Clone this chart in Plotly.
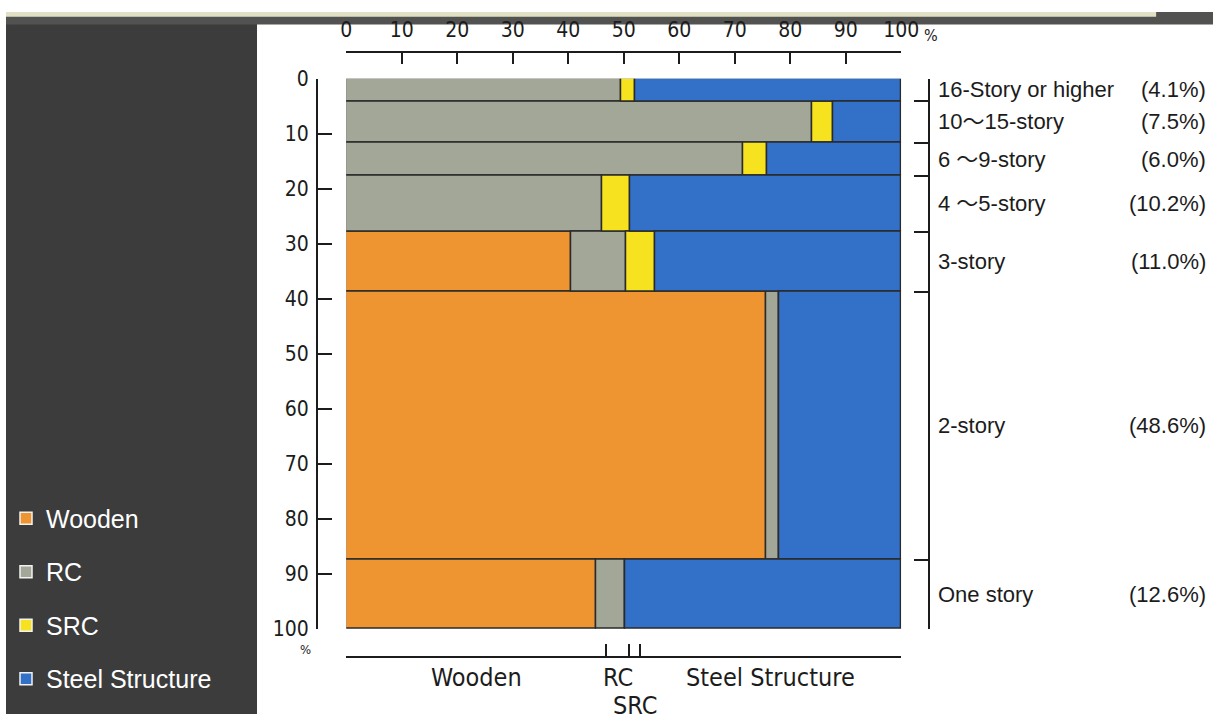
import numpy as np
import plotly.graph_objects as go

# Share of buildings by number of stories (row heights, %)
stories = ["16-Story or higher", "10～15-story", "6 ～9-story", "4 ～5-story",
           "3-story", "2-story", "One story"]
story_share = [4.1, 7.5, 6.0, 10.2, 11.0, 48.6, 12.6]

# Structure mix within each story class (row widths, %)
structures = ["Wooden", "RC", "SRC", "Steel Structure"]
wooden = [0.0, 0.0, 0.0, 0.0, 40.5, 75.6, 45.1]
rc = [49.6, 83.9, 71.6, 46.1, 10.0, 2.5, 5.1]
src = [2.5, 3.9, 4.2, 5.0, 5.2, 0.0, 0.0]
steel = [47.9, 12.2, 24.2, 48.9, 44.3, 21.9, 49.8]

# Overall structure shares shown on the bottom bracket (%)
overall_share = [46.8, 4.2, 1.9, 47.1]

colors = ["#EE9431", "#A3A797", "#F6E21F", "#3370C8"]

W, H = 1231, 726
NARROW = "Liberation Sans Narrow, DejaVu Sans Condensed, Arial Narrow, sans-serif"
SANS = "Liberation Sans, Arial, Noto Sans CJK JP, sans-serif"
INK = "#1c1c1c"


def fx(px):
    return px / W


def fy(px):
    return 1 - px / H


share = np.array(story_share)
row_top = np.concatenate([[0.0], np.cumsum(share)[:-1]])
row_mid = row_top + share / 2
row_bounds = [0.0] + list(np.round(np.cumsum(share), 2))

fig = go.Figure()

left = np.zeros(len(stories))
for name, vals, col in zip(structures, [wooden, rc, src, steel], colors):
    vals = np.array(vals)
    fig.add_trace(go.Bar(
        orientation="h", y=row_mid, x=vals, base=left, width=share,
        marker=dict(color=col, line=dict(color="#2a2a2a", width=1.5)),
        name=name, showlegend=False, hoverinfo="x+name",
    ))
    left = left + vals

# legend entries (white-framed swatches on the dark panel)
for name, col in zip(structures, colors):
    fig.add_trace(go.Bar(
        x=[None], y=[None], orientation="h", name=name, legendgroup=name,
        marker=dict(color=col, line=dict(color="#f2f2f2", width=1.5)),
        showlegend=True,
    ))

# helper traces so the bracket axes are laid out
fig.add_trace(go.Scatter(x=[0], y=[0], xaxis="x2", yaxis="y", mode="markers",
                         marker=dict(opacity=0), showlegend=False, hoverinfo="skip"))
fig.add_trace(go.Scatter(x=[0], y=[0], xaxis="x", yaxis="y2", mode="markers",
                         marker=dict(opacity=0), showlegend=False, hoverinfo="skip"))

overall_bounds = [0.0] + list(np.round(np.cumsum(overall_share), 2))
overall_mid = [(a + b) / 2 for a, b in zip(overall_bounds[:-1], overall_bounds[1:])]

x_dom = [fx(347), fx(913)]
y_dom = [fy(638), fy(69)]
line_style = dict(showline=True, linecolor=INK, linewidth=1.5, tickcolor=INK,
                  tickwidth=1.5, showgrid=False, zeroline=False, fixedrange=True)

fig.update_layout(
    width=W, height=H, margin=dict(l=0, r=0, t=0, b=0),
    paper_bgcolor="white", plot_bgcolor="rgba(0,0,0,0)",
    barmode="overlay", bargap=0,
    xaxis=dict(domain=x_dom, range=[0, 100], side="top", anchor="free",
               position=fy(41), tickmode="array", tickvals=list(range(0, 101, 10)),
               ticks="inside", ticklen=12, ticklabelstandoff=5,
               tickfont=dict(family=NARROW, size=21, color=INK), **line_style),
    yaxis=dict(domain=y_dom, range=[100, 0], side="left", anchor="free",
               position=fx(317), tickmode="array", tickvals=list(range(0, 101, 10)),
               ticks="inside", ticklen=14, ticklabelstandoff=3,
               tickfont=dict(family=NARROW, size=21, color=INK), **line_style),
    xaxis2=dict(overlaying="x", range=[0, 100], side="bottom", anchor="free",
                position=fy(667), tickmode="array", tickvals=overall_bounds,
                ticks="inside", ticklen=12, showticklabels=False, **line_style),
    yaxis2=dict(overlaying="y", range=[100, 0], side="right", anchor="free",
                position=fx(941), tickmode="array", tickvals=row_bounds,
                ticks="inside", ticklen=14, showticklabels=False, **line_style),
    legend=dict(x=0.0, y=fy(500), xanchor="left", yanchor="top",
                bgcolor="rgba(0,0,0,0)", tracegroupgap=18, traceorder="grouped",
                font=dict(family=SANS, size=25, color="white")),
    showlegend=True,
)

# dark side panel and scanned top border
fig.add_shape(type="rect", xref="paper", yref="paper", x0=0, x1=fx(256), y0=0, y1=1,
              fillcolor="#3c3c3c", line_width=0, layer="below")
fig.add_shape(type="rect", xref="paper", yref="paper", x0=0, x1=1, y0=fy(13), y1=1,
              fillcolor="#525250", line_width=0, layer="below")
fig.add_shape(type="rect", xref="paper", yref="paper", x0=0, x1=fx(1173), y0=fy(5), y1=1,
              fillcolor="#e2e0c4", line_width=0, layer="below")

ann = []
# story class names and their shares on the right
for name, s, m in zip(stories, story_share, row_mid):
    ann.append(dict(xref="paper", yref="y", x=fx(948), y=m, text=name, showarrow=False,
                    xanchor="left", yanchor="middle",
                    font=dict(family=SANS, size=22, color=INK)))
    ann.append(dict(xref="paper", yref="y", x=fx(1226), y=m, text=f"({s:.1f}%)",
                    showarrow=False, xanchor="right", yanchor="middle",
                    font=dict(family=SANS, size=22, color=INK)))

# structure names under the bottom bracket
for name, m in zip(structures, overall_mid):
    ypx = 717 if name == "SRC" else 688
    ann.append(dict(xref="x", yref="paper", x=m, y=fy(ypx), text=name, showarrow=False,
                    xanchor="center", yanchor="middle",
                    font=dict(family=NARROW, size=25, color=INK)))

# percent unit marks
ann.append(dict(xref="x", yref="paper", x=100, xshift=30, y=fy(24), text="%",
                showarrow=False, xanchor="center", yanchor="middle",
                font=dict(family=NARROW, size=16, color=INK)))
ann.append(dict(xref="paper", yref="y", x=fx(305), y=100, yshift=-21, text="%",
                showarrow=False, xanchor="center", yanchor="middle",
                font=dict(family=NARROW, size=13, color=INK)))

fig.update_layout(annotations=ann)

# page without the default body margin so the figure fills the window
page_js = "document.body.style.margin='0';document.body.style.padding='0';"
fig.write_html("out.html", post_script=page_js)
